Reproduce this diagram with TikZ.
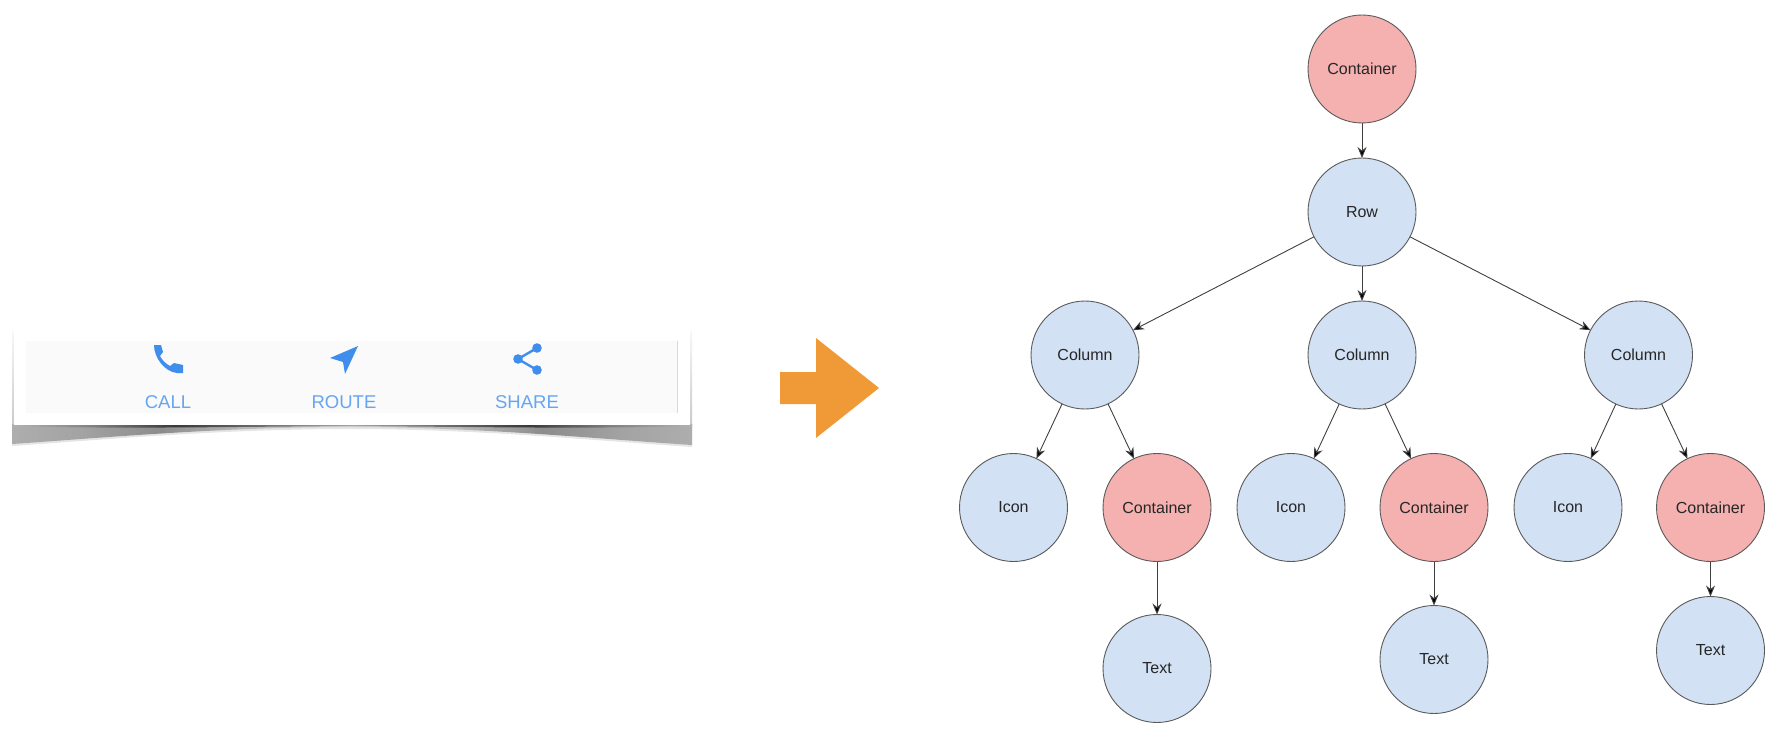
\documentclass[tikz,border=0pt]{standalone}
\usepackage{fontspec}
\setmainfont{Liberation Sans}
\usetikzlibrary{arrows.meta,shadings}
\definecolor{bluefill}{HTML}{D2E1F4}
\definecolor{redfill}{HTML}{F5B0B0}
\definecolor{edgecol}{HTML}{5A5A5A}
\definecolor{orangearrow}{HTML}{F09A37}
\definecolor{iconblue}{HTML}{3F8EEE}
\definecolor{labelblue}{HTML}{66A5F2}
\pgfdeclarehorizontalshading{shadowbody}{100bp}{
  color(0bp)=(black!32); color(25bp)=(black!32); color(30bp)=(black!36); color(36bp)=(black!45);
  color(42bp)=(black!28); color(50bp)=(black!18); color(58bp)=(black!28);
  color(64bp)=(black!45); color(70bp)=(black!36); color(75bp)=(black!32); color(100bp)=(black!32)}
\pgfdeclarehorizontalshading{shadowstrip}{100bp}{
  color(0bp)=(black!30); color(25bp)=(black!30); color(31bp)=(black!50); color(37bp)=(black!78);
  color(44bp)=(black!55); color(50bp)=(black!35); color(56bp)=(black!55);
  color(63bp)=(black!78); color(69bp)=(black!50); color(75bp)=(black!30); color(100bp)=(black!30)}
\tikzset{
  x=1pt,y=-1pt,
  treebase/.style={circle,draw=edgecol,line width=0.9pt,minimum size=108pt,inner sep=0pt,outer sep=0pt,text=black!85,font=\fontsize{16}{18}\selectfont},
  bluenode/.style={treebase,fill=bluefill},
  rednode/.style={treebase,fill=redfill},
  edge/.style={draw=black!75,line width=0.9pt,-{Stealth[length=11pt,width=9pt,fill=black]}},
  uilabel/.style={text=labelblue,font=\fontsize{18.5}{20}\selectfont,inner sep=0pt},
}
\begin{document}
\begin{tikzpicture}
\useasboundingbox (0,0) rectangle (1779,754);
% card shadow
\shade[top color=black!3,bottom color=black!22] (12,331) rectangle (14,430);
\shade[top color=black!3,bottom color=black!22] (690,331) rectangle (692,430);
\fill[black!10] (12,424) -- (692,424) -- (692,447) .. controls (600,441) and (480,429) .. (350,429) .. controls (220,429) and (100,440) .. (12,446) -- cycle;
\shade[shading=shadowbody] (12,424) -- (692,424) -- (692,445) .. controls (600,439) and (480,427) .. (350,427) .. controls (220,427) and (100,438) .. (12,444) -- cycle;
\shade[shading=shadowstrip] (12,424) -- (692,424) -- (692,426) .. controls (600,429) and (480,427) .. (350,426) .. controls (220,427) and (100,429) .. (12,426) -- cycle;
% card
\fill[white] (14,331) rectangle (690,425);
\fill[black!2] (26,341) rectangle (677,413);
\draw[black!15,line width=0.8pt] (677,341) -- (677,413);
% icons
\fill[iconblue] (154,345) -- (161,345) -- (163,352) -- (160,356) .. controls (162,360) and (166,364) .. (170,366) -- (174,363) -- (183,365) -- (183,373) -- (177,373) .. controls (165,372) and (154,358) .. (154,345) -- cycle;
\fill[iconblue] (358,346) -- (345,374) -- (343,362) -- (330,358) -- cycle;
\draw[iconblue,line width=2.4pt] (537,348) -- (518,359) -- (537,370);
\fill[iconblue] (537,348) circle (4.8) (518,359) circle (4.8) (537,370) circle (4.8);
\node[uilabel] (call) at (168,402) {CALL};
\node[uilabel] (route) at (344,402) {ROUTE};
\node[uilabel] (share) at (527,402) {SHARE};
% big arrow
\fill[orangearrow] (780,372) -- (816,372) -- (816,338) -- (879,388) -- (816,438) -- (816,404) -- (780,404) -- cycle;
% tree
\node[rednode] (root) at (1362,69) {Container};
\node[bluenode] (row) at (1362,212) {Row};
\node[bluenode] (colA) at (1085,355) {Column};
\node[bluenode] (colB) at (1362,355) {Column};
\node[bluenode] (colC) at (1638.5,355) {Column};
\node[bluenode] (iconA) at (1013.5,507.5) {Icon};
\node[rednode] (contA) at (1157,507.5) {Container};
\node[bluenode] (textA) at (1157,668.5) {Text};
\node[bluenode] (iconB) at (1291,507.5) {Icon};
\node[rednode] (contB) at (1434,507.5) {Container};
\node[bluenode] (textB) at (1434,659.5) {Text};
\node[bluenode] (iconC) at (1568,507.5) {Icon};
\node[rednode] (contC) at (1710.5,507.5) {Container};
\node[bluenode] (textC) at (1710.5,650.5) {Text};
\foreach \a/\b in {root/row,row/colA,row/colB,row/colC,colA/iconA,colA/contA,contA/textA,colB/iconB,colB/contB,contB/textB,colC/iconC,colC/contC,contC/textC}
  \draw[edge] (\a) -- (\b);
\end{tikzpicture}
\end{document}
